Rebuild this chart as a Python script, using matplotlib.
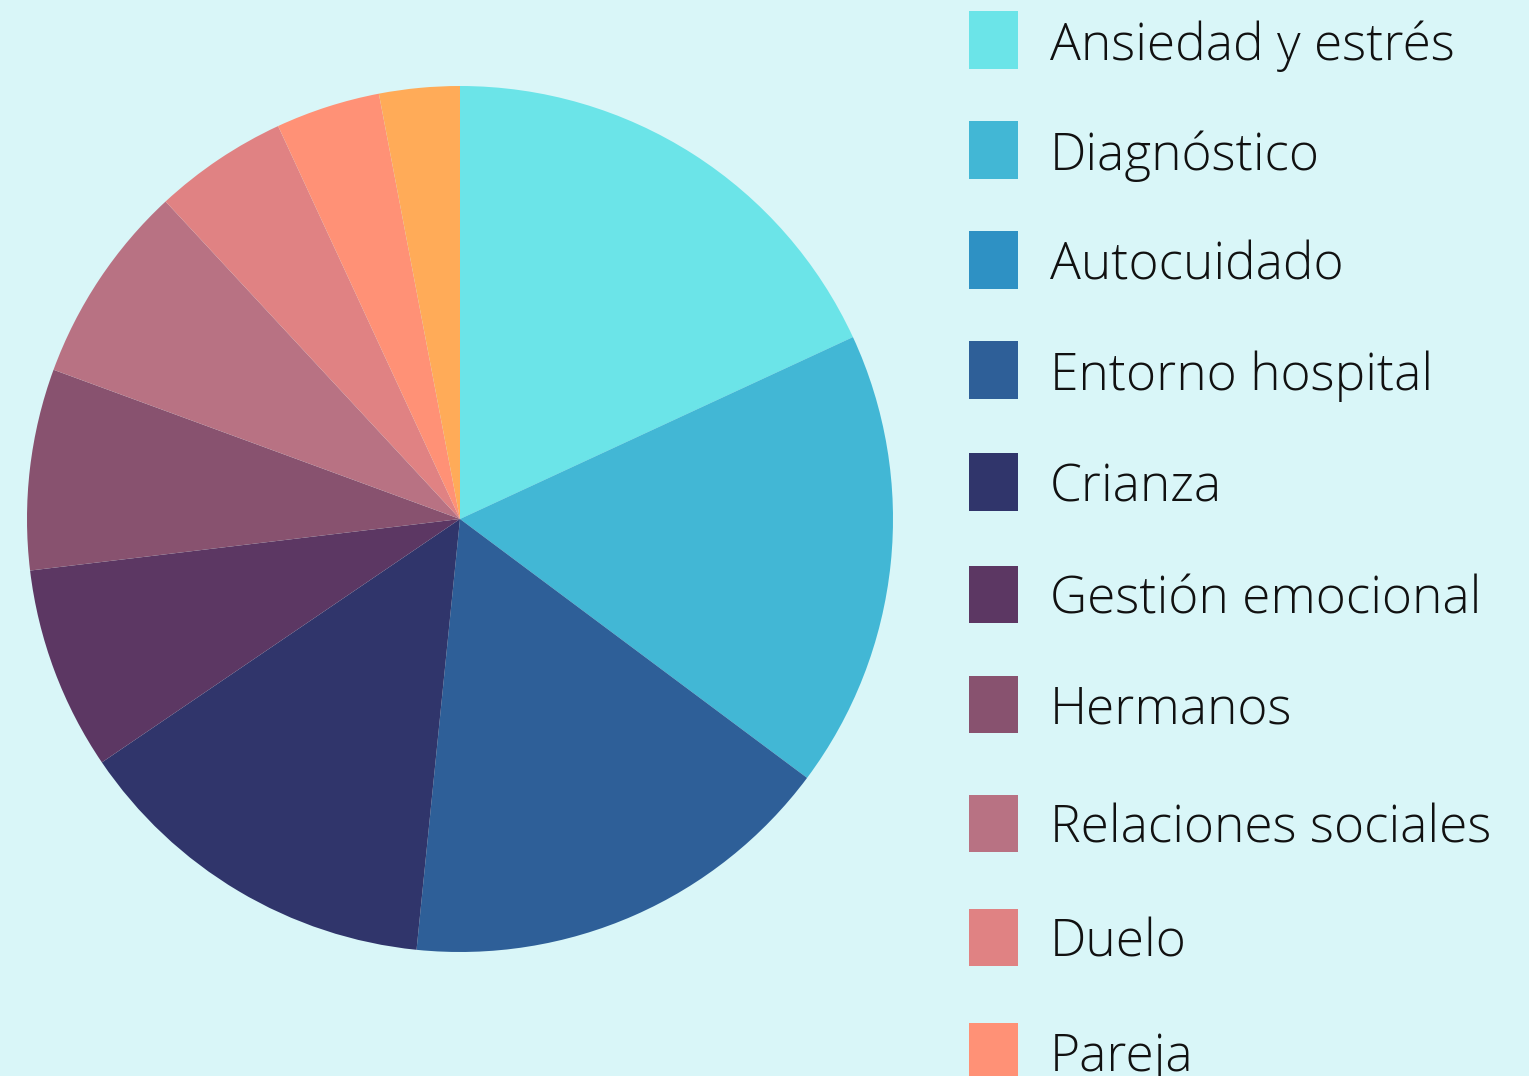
import matplotlib
matplotlib.use("Agg")
import matplotlib.pyplot as plt
from matplotlib.patches import Rectangle

# shares (percent, clockwise from 12 o'clock)
categories = ["Ansiedad y estrés", "Diagnóstico", "Autocuidado", "Entorno hospital",
              "Crianza", "Gestión emocional", "Hermanos", "Relaciones sociales",
              "Duelo", "Pareja", "Otros"]
values = [18.1, 17.1, 0.0, 16.4, 13.9, 7.6, 7.5, 7.5, 5.0, 3.9, 3.0]
colors = ["#6BE4E8", "#42B7D5", "#2E91C4", "#2E5F98", "#30356B", "#5C3763",
          "#88526F", "#B87283", "#E08283", "#FF9176", "#FFAB58"]

BG = "#D9F6F8"
W, H = 1529, 1076
fig = plt.figure(figsize=(W / 100, H / 100), dpi=100, facecolor=BG)

# pie: centre (460, 519) px, radius 433 px
cx, cy, r = 460, 519, 433
ax = fig.add_axes([(cx - r) / W, (H - cy - r) / H, 2 * r / W, 2 * r / H])
ax.set_facecolor(BG)
ax.pie(values, colors=colors, startangle=90, counterclock=False, radius=1,
       wedgeprops=dict(linewidth=0))
ax.set_xlim(-1, 1)
ax.set_ylim(-1, 1)
ax.set_aspect("equal")
ax.axis("off")

# legend drawn by hand, runs off the bottom edge like the original
ycent = [40, 150, 260, 370, 482, 594, 704, 823, 937, 1051, 1165]
for lab, col, yc in zip(categories, colors, ycent):
    fig.patches.append(Rectangle((969 / W, 1 - (yc + 28.5) / H), 49 / W, 57 / H,
                                 transform=fig.transFigure, color=col, lw=0))
    fig.text(1050 / W, 1 - yc / H, lab, ha="left", va="center_baseline",
             fontsize=37, family=["Open Sans", "DejaVu Sans"], fontweight="light",
             color="#111111")

fig.savefig("out.png", dpi=100, facecolor=BG)
